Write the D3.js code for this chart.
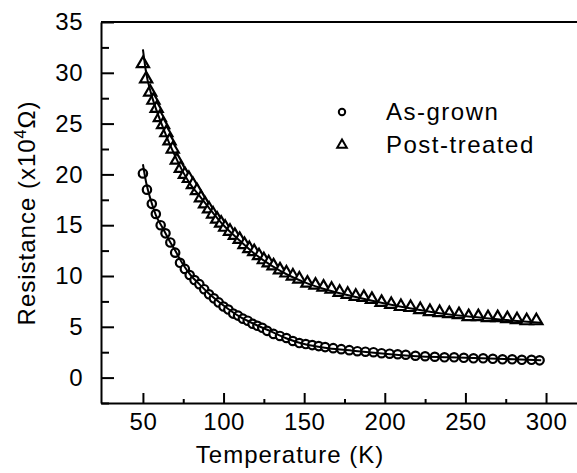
<!DOCTYPE html>
<html>
<head>
<meta charset="utf-8">
<script src="https://cdn.jsdelivr.net/npm/d3@7"></script>
<style>
  body { margin: 0; background: #fff; }
  text { font-family: "Liberation Sans", Arial, sans-serif; fill: #000; }
</style>
</head>
<body>
<svg id="chart" width="577" height="473"></svg>
<script>
// measured points, as-grown (circles)
const grownT = [50, 52.5, 55.5, 58, 61, 64, 67, 70, 73, 76, 79, 82, 85, 88, 91, 94, 97, 100,
  103, 106, 109, 112, 115, 118, 121, 124, 127, 131, 135, 139, 143, 147, 151, 155, 159, 163,
  168, 173, 178, 183, 188, 193, 198, 203, 208, 213, 219, 225, 231, 237, 243, 249, 255, 261,
  267, 273, 279, 285, 291, 296];
const grownR = [20.1, 18.5, 17.1, 16.1, 15.0, 14.2, 13.3, 12.3, 11.3, 10.7, 10.1, 9.6, 9.2, 8.7,
  8.2, 7.8, 7.4, 7.0, 6.7, 6.3, 6.1, 5.8, 5.6, 5.3, 5.1, 4.9, 4.6, 4.3, 4.1, 3.9, 3.6, 3.4,
  3.3, 3.2, 3.1, 3.0, 2.9, 2.8, 2.7, 2.6, 2.55, 2.5, 2.4, 2.35, 2.3, 2.25, 2.15, 2.1, 2.05,
  2.0, 2.0, 1.95, 1.9, 1.9, 1.85, 1.8, 1.8, 1.75, 1.75, 1.7];

// measured points, post-treated (triangles)
const treatedT = [50, 52, 54.5, 56.5, 58.5, 60.5, 62.5, 64.5, 66.5, 68.5, 71, 73.5, 76, 78.5,
  81, 83.5, 86, 88.5, 91, 93.5, 96, 98.5, 101, 104, 107, 110, 113, 116, 119, 122, 125, 128,
  131, 135, 139, 143, 147, 152, 157, 162, 167, 172, 177, 182, 187, 192, 198, 204, 210, 216,
  222, 228, 234, 240, 246, 252, 258, 264, 270, 276, 282, 288, 294];
const treatedR = [30.8, 29.3, 28.0, 27.2, 26.4, 25.5, 24.8, 24.0, 23.2, 22.4, 21.3, 20.5, 19.9,
  19.5, 18.9, 18.3, 17.6, 17.0, 16.5, 16.0, 15.5, 15.1, 14.7, 14.3, 13.9, 13.5, 13.0, 12.6,
  12.3, 11.9, 11.5, 11.2, 10.9, 10.5, 10.2, 9.9, 9.6, 9.2, 9.0, 8.8, 8.6, 8.3, 8.1, 7.9, 7.8,
  7.6, 7.3, 7.1, 6.9, 6.8, 6.6, 6.4, 6.3, 6.2, 6.1, 5.9, 5.9, 5.8, 5.8, 5.7, 5.6, 5.5, 5.5];

// fitted curves
const fitT = [50, 52, 55, 58, 62, 66, 70, 75, 80, 85, 90, 100, 110, 120, 130, 140, 150, 165,
  180, 200, 220, 240, 260, 280, 297];
const fitGrown = [21.0, 19.2, 17.4, 16.0, 14.8, 13.6, 12.5, 11.1, 10.0, 9.2, 8.4, 7.1, 6.0, 5.2,
  4.5, 3.8, 3.3, 2.9, 2.65, 2.35, 2.1, 2.0, 1.9, 1.8, 1.7];
const fitTreated = [32.3, 30.0, 28.0, 26.5, 24.8, 23.2, 21.8, 20.2, 18.9, 17.9, 16.9, 15.0, 13.5,
  12.1, 11.0, 10.1, 9.4, 8.6, 8.0, 7.3, 6.7, 6.2, 5.9, 5.6, 5.4];

const xMajor = [50, 100, 150, 200, 250, 300];
const xMinor = [75, 125, 175, 225, 275];
const yMajor = [0, 5, 10, 15, 20, 25, 30, 35];
const yMinor = [-2.5, 2.5, 7.5, 12.5, 17.5, 22.5, 27.5, 32.5];
const legendLabels = ["As-grown", "Post-treated"];

const LEFT = 101, RIGHT = 577, TOP = 22, BOTTOM = 403;
const svg = d3.select("#chart");

const x = d3.scaleLinear().domain([24, 319.2]).range([LEFT, RIGHT]);
const y = d3.scaleLinear().domain([-2.5, 35]).range([BOTTOM, TOP]);

// top frame line
svg.append("line")
  .attr("x1", LEFT).attr("x2", RIGHT)
  .attr("y1", TOP).attr("y2", TOP)
  .attr("stroke", "#000").attr("stroke-width", 2);

// y axis
svg.append("g").attr("transform", `translate(${LEFT},0)`)
  .call(d3.axisLeft(y).tickValues(yMajor).tickSizeInner(-13).tickSizeOuter(0).tickPadding(18));
svg.append("g").attr("transform", `translate(${LEFT},0)`)
  .call(d3.axisLeft(y).tickValues(yMinor).tickSizeInner(-8).tickSizeOuter(0).tickFormat(""))
  .select(".domain").remove();

// x axis
svg.append("g").attr("transform", `translate(0,${BOTTOM})`)
  .call(d3.axisBottom(x).tickValues(xMajor).tickSizeInner(-10).tickSizeOuter(0).tickPadding(10));
svg.append("g").attr("transform", `translate(0,${BOTTOM})`)
  .call(d3.axisBottom(x).tickValues(xMinor).tickSizeInner(-4).tickSizeOuter(0).tickFormat(""))
  .select(".domain").remove();

svg.selectAll(".domain, .tick line").attr("stroke", "#000").attr("stroke-width", 2);
svg.selectAll(".tick text")
  .style("font-family", "Liberation Sans, Arial, sans-serif")
  .style("font-size", "24px")
  .style("letter-spacing", "0.5px")
  .attr("fill", "#000");

// axis titles
svg.append("text")
  .attr("x", 290).attr("y", 463)
  .attr("text-anchor", "middle")
  .style("font-size", "24px")
  .style("letter-spacing", "1px")
  .text("Temperature (K)");

const yTitle = svg.append("text")
  .attr("transform", "translate(35,213) rotate(-90)")
  .attr("text-anchor", "middle")
  .style("font-size", "24px")
  .style("letter-spacing", "1px");
yTitle.append("tspan").text("Resistance (x10");
yTitle.append("tspan").attr("dy", -9).style("font-size", "16px").text("4");
yTitle.append("tspan").attr("dy", 9).text("Ω)");

// fitted lines
const line = d3.line().x((d) => x(d[0])).y((d) => y(d[1])).curve(d3.curveMonotoneX);

// markers
const triPath = d3.symbol().type(d3.symbolTriangle).size(64);

svg.append("g").selectAll("path")
  .data(d3.zip(treatedT, treatedR))
  .join("path")
  .attr("d", triPath)
  .attr("transform", (d) => `translate(${x(d[0])},${y(d[1]) - 1})`)
  .attr("fill", "#fff").attr("stroke", "#000").attr("stroke-width", 2.2);

svg.append("g").selectAll("circle")
  .data(d3.zip(grownT, grownR))
  .join("circle")
  .attr("cx", (d) => x(d[0])).attr("cy", (d) => y(d[1]))
  .attr("r", 4.2)
  .attr("fill", "#fff").attr("stroke", "#000").attr("stroke-width", 2.2);

svg.append("path")
  .datum(d3.zip(fitT, fitTreated))
  .attr("d", line)
  .attr("fill", "none").attr("stroke", "#000").attr("stroke-width", 2);
svg.append("path")
  .datum(d3.zip(fitT, fitGrown))
  .attr("d", line)
  .attr("fill", "none").attr("stroke", "#000").attr("stroke-width", 2);

// legend
const legend = svg.append("g");
legend.append("circle")
  .attr("cx", 342).attr("cy", 112).attr("r", 3.2)
  .attr("fill", "#fff").attr("stroke", "#000").attr("stroke-width", 2);
legend.append("path")
  .attr("d", d3.symbol().type(d3.symbolTriangle).size(40))
  .attr("transform", "translate(342,145)")
  .attr("fill", "#fff").attr("stroke", "#000").attr("stroke-width", 2);
legend.selectAll("text")
  .data(legendLabels)
  .join("text")
  .attr("x", 386)
  .attr("y", (d, i) => 120 + i * 33)
  .style("font-size", "24px")
  .style("letter-spacing", "1.5px")
  .text((d) => d);
</script>
</body>
</html>
